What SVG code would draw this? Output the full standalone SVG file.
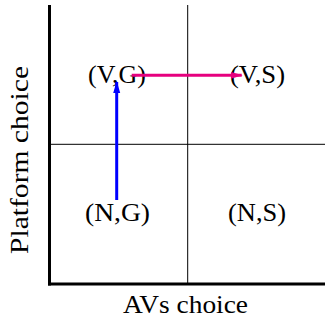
<svg xmlns="http://www.w3.org/2000/svg" width="325" height="322" viewBox="0 0 325 322">
<style>
.t{font-family:"Liberation Serif","Times New Roman",serif;font-size:25px;fill:#000;text-anchor:middle}
.ax{stroke:#000;stroke-width:3;fill:none}
.gr{stroke:#000;stroke-width:1;fill:none}
</style>
<defs>
<marker id="hb" markerWidth="12" markerHeight="8" refX="11" refY="4" orient="auto" markerUnits="userSpaceOnUse"><path d="M0,0.5 L12,4 L0,7.5 z" fill="#0000ff"/></marker>
<marker id="hp" markerWidth="12" markerHeight="8" refX="11" refY="4" orient="auto" markerUnits="userSpaceOnUse"><path d="M0,0.5 L12,4 L0,7.5 z" fill="#e6007e"/></marker>
</defs>
<rect width="325" height="322" fill="#fff"/>
<g id="grid">
<line class="gr" x1="187.7" y1="5" x2="187.7" y2="284"/>
<line class="gr" x1="49" y1="144.3" x2="325" y2="144.3"/>
<line class="ax" x1="49.5" y1="5" x2="49.5" y2="285.5"/>
<line class="ax" x1="48" y1="284" x2="325" y2="284"/>
</g>
<g id="labels">
<text class="t" x="185.5" y="312.5" textLength="125" lengthAdjust="spacingAndGlyphs">AVs choice</text>
<text class="t" transform="translate(28,160) rotate(-90)" textLength="188" lengthAdjust="spacingAndGlyphs">Platform choice</text>
</g>
<g id="VG"><text class="t" x="117" y="82.5" textLength="58" lengthAdjust="spacingAndGlyphs">(V,G)</text></g>
<g id="VS"><text class="t" x="257.5" y="82.5" textLength="55" lengthAdjust="spacingAndGlyphs">(V,S)</text></g>
<g id="NG"><text class="t" x="117.5" y="221" textLength="65" lengthAdjust="spacingAndGlyphs">(N,G)</text></g>
<g id="NS"><text class="t" x="257" y="221" textLength="58" lengthAdjust="spacingAndGlyphs">(N,S)</text></g>
<g id="connectors">
<line x1="116.7" y1="200" x2="116.7" y2="82" stroke="#0000ff" stroke-width="3" marker-end="url(#hb)"/>
<line x1="131.7" y1="75.3" x2="241.7" y2="75.3" stroke="#e6007e" stroke-width="3" marker-end="url(#hp)"/>
</g>
</svg>
